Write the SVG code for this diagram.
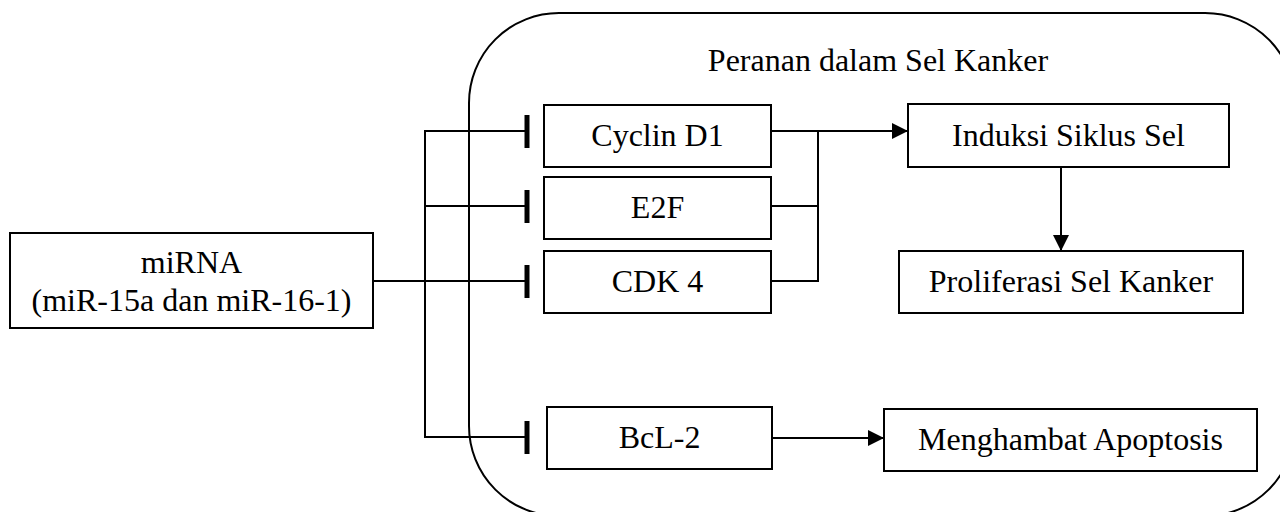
<svg xmlns="http://www.w3.org/2000/svg" width="1280" height="512" viewBox="0 0 1280 512">
  <style>
    .box { fill: #ffffff; stroke: #000000; stroke-width: 2; }
    .frame { fill: none; stroke: #000000; stroke-width: 2; }
    .ln { fill: none; stroke: #000000; stroke-width: 2; }
    .bar { stroke: #000000; stroke-width: 5; }
    .lbl { font-family: "Liberation Serif", "Times New Roman", serif; font-size: 32px; fill: #000000; text-anchor: middle; }
  </style>
  <defs>
    <marker id="arrow" viewBox="0 0 16 16" refX="16" refY="8" markerWidth="16" markerHeight="16" markerUnits="userSpaceOnUse" orient="auto">
      <path d="M0,0 L16,8 L0,16 Z" fill="#000000"/>
    </marker>
  </defs>

  <rect width="1280" height="512" fill="#ffffff"/>

  <!-- rounded frame: role within the cancer cell -->
  <g id="frame">
    <rect class="frame" x="469" y="13" width="826" height="503" rx="90" ry="90"/>
    <text class="lbl" x="878" y="71">Peranan dalam Sel Kanker</text>
  </g>

  <!-- connectors -->
  <g id="connectors">
    <!-- inhibition branches from miRNA -->
    <line class="ln" x1="373" y1="281" x2="527" y2="281"/>
    <line class="ln" x1="425" y1="130" x2="425" y2="438"/>
    <line class="ln" x1="424" y1="131" x2="527" y2="131"/>
    <line class="ln" x1="424" y1="206" x2="527" y2="206"/>
    <line class="ln" x1="424" y1="437" x2="527" y2="437"/>
    <line class="bar" x1="527" y1="115" x2="527" y2="148"/>
    <line class="bar" x1="527" y1="190" x2="527" y2="223"/>
    <line class="bar" x1="527" y1="265" x2="527" y2="298"/>
    <line class="bar" x1="527" y1="421" x2="527" y2="454"/>
    <!-- merge into cell-cycle induction -->
    <line class="ln" x1="771" y1="206" x2="819" y2="206"/>
    <line class="ln" x1="771" y1="281" x2="819" y2="281"/>
    <line class="ln" x1="818" y1="130" x2="818" y2="282"/>
    <line class="ln" x1="771" y1="131" x2="908" y2="131" marker-end="url(#arrow)"/>
    <!-- induction to proliferation -->
    <line class="ln" x1="1061" y1="167" x2="1061" y2="251" marker-end="url(#arrow)"/>
    <!-- BcL-2 to apoptosis inhibition -->
    <line class="ln" x1="772" y1="438" x2="884" y2="438" marker-end="url(#arrow)"/>
  </g>

  <g id="mirna">
    <rect class="box" x="10" y="233" width="363" height="95"/>
    <text class="lbl" x="191.5" y="273">miRNA</text>
    <text class="lbl" x="191.5" y="311">(miR-15a dan miR-16-1)</text>
  </g>

  <g id="cyclin-d1">
    <rect class="box" x="544" y="105" width="227" height="62"/>
    <text class="lbl" x="657.5" y="146">Cyclin D1</text>
  </g>

  <g id="e2f">
    <rect class="box" x="544" y="177" width="227" height="62"/>
    <text class="lbl" x="657.5" y="218">E2F</text>
  </g>

  <g id="cdk4">
    <rect class="box" x="544" y="251" width="227" height="62"/>
    <text class="lbl" x="657.5" y="292">CDK 4</text>
  </g>

  <g id="bcl2">
    <rect class="box" x="547" y="407" width="225" height="62"/>
    <text class="lbl" x="659.5" y="448">BcL-2</text>
  </g>

  <g id="induksi">
    <rect class="box" x="908" y="104" width="321" height="63"/>
    <text class="lbl" x="1068.5" y="146">Induksi Siklus Sel</text>
  </g>

  <g id="proliferasi">
    <rect class="box" x="899" y="251" width="344" height="62"/>
    <text class="lbl" x="1071" y="292">Proliferasi Sel Kanker</text>
  </g>

  <g id="apoptosis">
    <rect class="box" x="884" y="409" width="373" height="62"/>
    <text class="lbl" x="1070.5" y="450">Menghambat Apoptosis</text>
  </g>
</svg>
